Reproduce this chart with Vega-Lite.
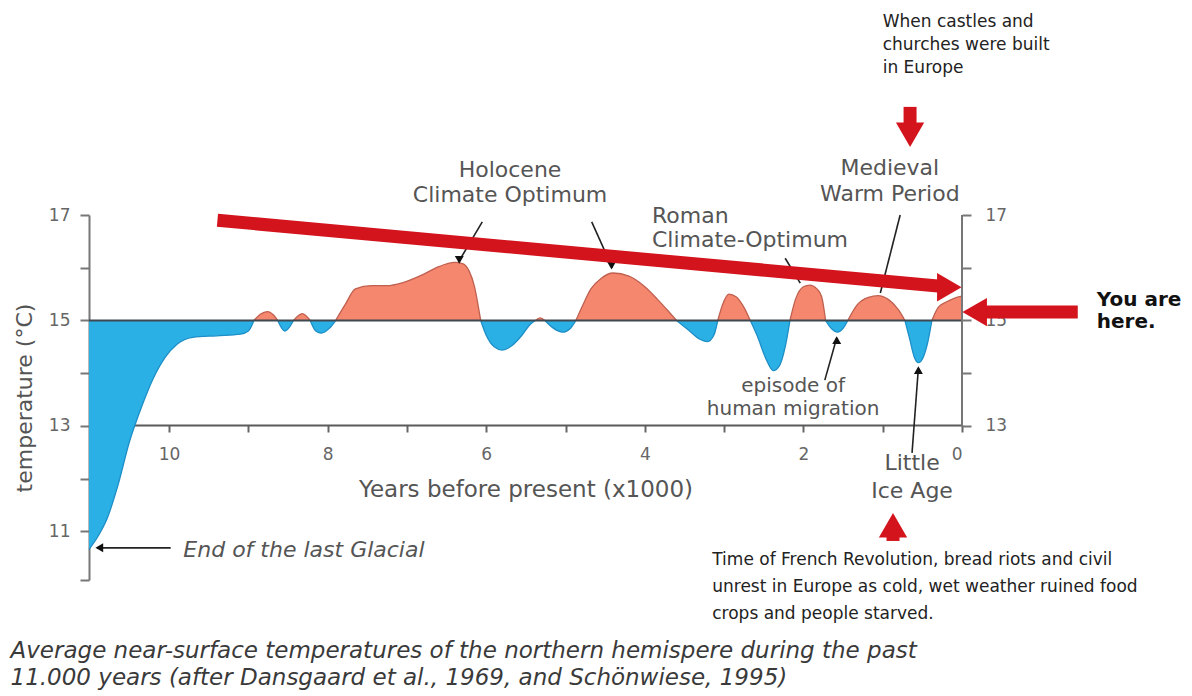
{
  "$schema": "https://vega.github.io/schema/vega-lite/v6.json",
  "width": 873,
  "height": 365,
  "autosize": {"type": "none"},
  "padding": {"left": 89, "top": 215, "right": 230, "bottom": 116},
  "background": "white",
  "config": {"view": {"stroke": null}},
  "datasets": {
    "curve": [
      {"yrs": 11.01, "temp": 10.66, "seg": "c1", "phase": "cold"},
      {"yrs": 10.9, "temp": 10.9, "seg": "c1", "phase": "cold"},
      {"yrs": 10.78, "temp": 11.25, "seg": "c1", "phase": "cold"},
      {"yrs": 10.65, "temp": 11.85, "seg": "c1", "phase": "cold"},
      {"yrs": 10.5, "temp": 12.7, "seg": "c1", "phase": "cold"},
      {"yrs": 10.35, "temp": 13.35, "seg": "c1", "phase": "cold"},
      {"yrs": 10.2, "temp": 13.9, "seg": "c1", "phase": "cold"},
      {"yrs": 10.05, "temp": 14.3, "seg": "c1", "phase": "cold"},
      {"yrs": 9.9, "temp": 14.55, "seg": "c1", "phase": "cold"},
      {"yrs": 9.7, "temp": 14.68, "seg": "c1", "phase": "cold"},
      {"yrs": 9.4, "temp": 14.71, "seg": "c1", "phase": "cold"},
      {"yrs": 9.1, "temp": 14.74, "seg": "c1", "phase": "cold"},
      {"yrs": 9.0, "temp": 14.8, "seg": "c1", "phase": "cold"},
      {"yrs": 8.93, "temp": 15.0, "seg": "c1", "phase": "cold"},
      {"yrs": 8.93, "temp": 15.0, "seg": "w1", "phase": "warm"},
      {"yrs": 8.85, "temp": 15.12, "seg": "w1", "phase": "warm"},
      {"yrs": 8.76, "temp": 15.17, "seg": "w1", "phase": "warm"},
      {"yrs": 8.68, "temp": 15.1, "seg": "w1", "phase": "warm"},
      {"yrs": 8.63, "temp": 15.0, "seg": "w1", "phase": "warm"},
      {"yrs": 8.63, "temp": 15.0, "seg": "c2", "phase": "cold"},
      {"yrs": 8.54, "temp": 14.8, "seg": "c2", "phase": "cold"},
      {"yrs": 8.43, "temp": 15.0, "seg": "c2", "phase": "cold"},
      {"yrs": 8.43, "temp": 15.0, "seg": "w2", "phase": "warm"},
      {"yrs": 8.32, "temp": 15.13, "seg": "w2", "phase": "warm"},
      {"yrs": 8.22, "temp": 15.0, "seg": "w2", "phase": "warm"},
      {"yrs": 8.22, "temp": 15.0, "seg": "c3", "phase": "cold"},
      {"yrs": 8.15, "temp": 14.8, "seg": "c3", "phase": "cold"},
      {"yrs": 8.08, "temp": 14.76, "seg": "c3", "phase": "cold"},
      {"yrs": 7.98, "temp": 14.85, "seg": "c3", "phase": "cold"},
      {"yrs": 7.9, "temp": 15.0, "seg": "c3", "phase": "cold"},
      {"yrs": 7.9, "temp": 15.0, "seg": "w3", "phase": "warm"},
      {"yrs": 7.78, "temp": 15.3, "seg": "w3", "phase": "warm"},
      {"yrs": 7.65, "temp": 15.6, "seg": "w3", "phase": "warm"},
      {"yrs": 7.45, "temp": 15.66, "seg": "w3", "phase": "warm"},
      {"yrs": 7.25, "temp": 15.66, "seg": "w3", "phase": "warm"},
      {"yrs": 7.05, "temp": 15.72, "seg": "w3", "phase": "warm"},
      {"yrs": 6.8, "temp": 15.87, "seg": "w3", "phase": "warm"},
      {"yrs": 6.6, "temp": 16.02, "seg": "w3", "phase": "warm"},
      {"yrs": 6.4, "temp": 16.1, "seg": "w3", "phase": "warm"},
      {"yrs": 6.3, "temp": 16.08, "seg": "w3", "phase": "warm"},
      {"yrs": 6.22, "temp": 15.95, "seg": "w3", "phase": "warm"},
      {"yrs": 6.15, "temp": 15.65, "seg": "w3", "phase": "warm"},
      {"yrs": 6.11, "temp": 15.35, "seg": "w3", "phase": "warm"},
      {"yrs": 6.07, "temp": 15.0, "seg": "w3", "phase": "warm"},
      {"yrs": 6.07, "temp": 15.0, "seg": "c4", "phase": "cold"},
      {"yrs": 6.0, "temp": 14.72, "seg": "c4", "phase": "cold"},
      {"yrs": 5.9, "temp": 14.5, "seg": "c4", "phase": "cold"},
      {"yrs": 5.8, "temp": 14.44, "seg": "c4", "phase": "cold"},
      {"yrs": 5.68, "temp": 14.52, "seg": "c4", "phase": "cold"},
      {"yrs": 5.55, "temp": 14.72, "seg": "c4", "phase": "cold"},
      {"yrs": 5.45, "temp": 14.92, "seg": "c4", "phase": "cold"},
      {"yrs": 5.38, "temp": 15.0, "seg": "c4", "phase": "cold"},
      {"yrs": 5.38, "temp": 15.0, "seg": "w4", "phase": "warm"},
      {"yrs": 5.32, "temp": 15.05, "seg": "w4", "phase": "warm"},
      {"yrs": 5.26, "temp": 15.0, "seg": "w4", "phase": "warm"},
      {"yrs": 5.26, "temp": 15.0, "seg": "c5", "phase": "cold"},
      {"yrs": 5.15, "temp": 14.85, "seg": "c5", "phase": "cold"},
      {"yrs": 5.04, "temp": 14.78, "seg": "c5", "phase": "cold"},
      {"yrs": 4.94, "temp": 14.85, "seg": "c5", "phase": "cold"},
      {"yrs": 4.87, "temp": 15.0, "seg": "c5", "phase": "cold"},
      {"yrs": 4.87, "temp": 15.0, "seg": "w5", "phase": "warm"},
      {"yrs": 4.78, "temp": 15.3, "seg": "w5", "phase": "warm"},
      {"yrs": 4.68, "temp": 15.6, "seg": "w5", "phase": "warm"},
      {"yrs": 4.55, "temp": 15.8, "seg": "w5", "phase": "warm"},
      {"yrs": 4.4, "temp": 15.9, "seg": "w5", "phase": "warm"},
      {"yrs": 4.2, "temp": 15.84, "seg": "w5", "phase": "warm"},
      {"yrs": 4.0, "temp": 15.64, "seg": "w5", "phase": "warm"},
      {"yrs": 3.84, "temp": 15.4, "seg": "w5", "phase": "warm"},
      {"yrs": 3.7, "temp": 15.17, "seg": "w5", "phase": "warm"},
      {"yrs": 3.6, "temp": 15.0, "seg": "w5", "phase": "warm"},
      {"yrs": 3.6, "temp": 15.0, "seg": "c6", "phase": "cold"},
      {"yrs": 3.45, "temp": 14.82, "seg": "c6", "phase": "cold"},
      {"yrs": 3.3, "temp": 14.64, "seg": "c6", "phase": "cold"},
      {"yrs": 3.21, "temp": 14.6, "seg": "c6", "phase": "cold"},
      {"yrs": 3.13, "temp": 14.72, "seg": "c6", "phase": "cold"},
      {"yrs": 3.08, "temp": 15.0, "seg": "c6", "phase": "cold"},
      {"yrs": 3.08, "temp": 15.0, "seg": "w6", "phase": "warm"},
      {"yrs": 3.02, "temp": 15.3, "seg": "w6", "phase": "warm"},
      {"yrs": 2.94, "temp": 15.5, "seg": "w6", "phase": "warm"},
      {"yrs": 2.85, "temp": 15.45, "seg": "w6", "phase": "warm"},
      {"yrs": 2.75, "temp": 15.25, "seg": "w6", "phase": "warm"},
      {"yrs": 2.67, "temp": 15.0, "seg": "w6", "phase": "warm"},
      {"yrs": 2.67, "temp": 15.0, "seg": "c7", "phase": "cold"},
      {"yrs": 2.58, "temp": 14.7, "seg": "c7", "phase": "cold"},
      {"yrs": 2.48, "temp": 14.3, "seg": "c7", "phase": "cold"},
      {"yrs": 2.38, "temp": 14.05, "seg": "c7", "phase": "cold"},
      {"yrs": 2.3, "temp": 14.15, "seg": "c7", "phase": "cold"},
      {"yrs": 2.23, "temp": 14.5, "seg": "c7", "phase": "cold"},
      {"yrs": 2.17, "temp": 15.0, "seg": "c7", "phase": "cold"},
      {"yrs": 2.17, "temp": 15.0, "seg": "w7", "phase": "warm"},
      {"yrs": 2.1, "temp": 15.4, "seg": "w7", "phase": "warm"},
      {"yrs": 2.0, "temp": 15.64, "seg": "w7", "phase": "warm"},
      {"yrs": 1.92, "temp": 15.67, "seg": "w7", "phase": "warm"},
      {"yrs": 1.83, "temp": 15.6, "seg": "w7", "phase": "warm"},
      {"yrs": 1.77, "temp": 15.45, "seg": "w7", "phase": "warm"},
      {"yrs": 1.72, "temp": 15.0, "seg": "w7", "phase": "warm"},
      {"yrs": 1.72, "temp": 15.0, "seg": "c8", "phase": "cold"},
      {"yrs": 1.65, "temp": 14.85, "seg": "c8", "phase": "cold"},
      {"yrs": 1.57, "temp": 14.78, "seg": "c8", "phase": "cold"},
      {"yrs": 1.5, "temp": 14.85, "seg": "c8", "phase": "cold"},
      {"yrs": 1.44, "temp": 15.0, "seg": "c8", "phase": "cold"},
      {"yrs": 1.44, "temp": 15.0, "seg": "w8", "phase": "warm"},
      {"yrs": 1.32, "temp": 15.3, "seg": "w8", "phase": "warm"},
      {"yrs": 1.18, "temp": 15.44, "seg": "w8", "phase": "warm"},
      {"yrs": 1.06, "temp": 15.47, "seg": "w8", "phase": "warm"},
      {"yrs": 0.93, "temp": 15.4, "seg": "w8", "phase": "warm"},
      {"yrs": 0.8, "temp": 15.2, "seg": "w8", "phase": "warm"},
      {"yrs": 0.72, "temp": 15.0, "seg": "w8", "phase": "warm"},
      {"yrs": 0.72, "temp": 15.0, "seg": "c9", "phase": "cold"},
      {"yrs": 0.66, "temp": 14.65, "seg": "c9", "phase": "cold"},
      {"yrs": 0.6, "temp": 14.3, "seg": "c9", "phase": "cold"},
      {"yrs": 0.55, "temp": 14.2, "seg": "c9", "phase": "cold"},
      {"yrs": 0.49, "temp": 14.3, "seg": "c9", "phase": "cold"},
      {"yrs": 0.43, "temp": 14.6, "seg": "c9", "phase": "cold"},
      {"yrs": 0.38, "temp": 15.0, "seg": "c9", "phase": "cold"},
      {"yrs": 0.38, "temp": 15.0, "seg": "w9", "phase": "warm"},
      {"yrs": 0.3, "temp": 15.25, "seg": "w9", "phase": "warm"},
      {"yrs": 0.2, "temp": 15.35, "seg": "w9", "phase": "warm"},
      {"yrs": 0.1, "temp": 15.42, "seg": "w9", "phase": "warm"},
      {"yrs": 0.0, "temp": 15.46, "seg": "w9", "phase": "warm"}
    ],
    "baseline": [{"yrs": 11.01, "yrs2": 0, "temp": 15}],
    "rightAxis": [{"yrs": 0, "temp": 13, "temp2": 17}],
    "pointers": [
      {"yrs": 6.05, "temp": 16.87, "yrs2": 6.35, "temp2": 16.11},
      {"yrs": 4.67, "temp": 16.87, "yrs2": 4.41, "temp2": 16.0},
      {"yrs": 2.23, "temp": 16.18, "yrs2": 2.04, "temp2": 15.71},
      {"yrs": 0.78, "temp": 17.0, "yrs2": 1.03, "temp2": 15.52},
      {"yrs": 1.73, "temp": 13.87, "yrs2": 1.58, "temp2": 14.67},
      {"yrs": 0.63, "temp": 12.49, "yrs2": 0.55, "temp2": 14.1},
      {"yrs": 9.98, "temp": 10.69, "yrs2": 10.91, "temp2": 10.69}
    ],
    "pointerHeads": [
      {"yrs": 6.34, "temp": 16.15, "dir": "down"},
      {"yrs": 4.42, "temp": 16.04, "dir": "down"},
      {"yrs": 1.58, "temp": 14.63, "dir": "up"},
      {"yrs": 0.55, "temp": 14.06, "dir": "up"},
      {"yrs": 10.88, "temp": 10.69, "dir": "left"}
    ],
    "redShafts": [
      {"yrs": 9.39, "temp": 16.9, "yrs2": 0.2, "temp2": 15.64},
      {"yrs": -1.46, "temp": 15.16, "yrs2": -0.16, "temp2": 15.16},
      {"yrs": 0.655, "temp": 19.05, "yrs2": 0.655, "temp2": 18.52},
      {"yrs": 0.87, "temp": 10.82, "yrs2": 0.87, "temp2": 11.12}
    ],
    "redHeads": [
      {"yrs": 0.16, "temp": 15.63, "dir": "right"},
      {"yrs": -0.16, "temp": 15.16, "dir": "left"},
      {"yrs": 0.655, "temp": 18.52, "dir": "down"},
      {"yrs": 0.87, "temp": 11.12, "dir": "up"}
    ],
    "centerLabels": [
      {"yrs": 5.7, "temp": 17.85, "label": "Holocene"},
      {"yrs": 5.7, "temp": 17.38, "label": "Climate Optimum"},
      {"yrs": 0.91, "temp": 17.89, "label": "Medieval"},
      {"yrs": 0.91, "temp": 17.4, "label": "Warm Period"},
      {"yrs": 0.63, "temp": 12.3, "label": "Little"},
      {"yrs": 0.63, "temp": 11.77, "label": "Ice Age"}
    ],
    "episodeLabels": [
      {"yrs": 2.13, "temp": 13.76, "label": "episode of"},
      {"yrs": 2.13, "temp": 13.32, "label": "human migration"}
    ],
    "leftLabels": [
      {"yrs": 3.91, "temp": 16.98, "label": "Roman"},
      {"yrs": 3.91, "temp": 16.53, "label": "Climate-Optimum"}
    ],
    "glacial": [{"yrs": 9.82, "temp": 10.65, "label": "End of the last Glacial"}],
    "caption": [
      {"yrs": 12.0, "temp": 8.74, "label": "Average near-surface temperatures of the northern hemispere during the past"},
      {"yrs": 12.0, "temp": 8.22, "label": "11.000 years (after Dansgaard et al., 1969, and Schönwiese, 1995)"}
    ],
    "here": [
      {"yrs": -1.7, "temp": 15.39, "label": "You are"},
      {"yrs": -1.7, "temp": 14.97, "label": "here."}
    ],
    "notes": [
      {"yrs": 1.0, "temp": 20.66, "label": "When castles and"},
      {"yrs": 1.0, "temp": 20.22, "label": "churches were built"},
      {"yrs": 1.0, "temp": 19.79, "label": "in Europe"},
      {"yrs": 3.15, "temp": 10.46, "label": "Time of  French Revolution, bread riots and civil"},
      {"yrs": 3.15, "temp": 9.95, "label": "unrest in Europe as cold, wet weather  ruined food"},
      {"yrs": 3.15, "temp": 9.44, "label": "crops and people starved."}
    ]
  },
  "encoding": {
    "x": {"field": "yrs", "type": "quantitative", "scale": {"domain": [0, 11.01], "reverse": true, "nice": false, "zero": false}, "axis": null},
    "y": {"field": "temp", "type": "quantitative", "scale": {"domain": [10.08, 17], "nice": false, "zero": false}, "axis": null}
  },
  "layer": [
    {
      "data": {"name": "curve"},
      "mark": {"type": "area", "interpolate": "monotone"},
      "encoding": {
        "x": {"field": "yrs", "type": "quantitative", "scale": {"domain": [0, 11.01], "reverse": true, "nice": false, "zero": false},
          "axis": {"orient": "bottom", "offset": -155, "values": [0, 1, 2, 3, 4, 5, 6, 7, 8, 9, 10], "labelExpr": "datum.value % 2 == 0 ? datum.label : ''", "grid": false,
            "domainColor": "#5a5a5a", "domainWidth": 2, "tickColor": "#666", "tickWidth": 2, "tickSize": 7,
            "labelColor": "#666", "labelFont": "DejaVu Sans", "labelFontSize": 17, "labelPadding": 14,
            "title": "Years before present (x1000)", "titleFont": "DejaVu Sans", "titleFontSize": 23, "titleFontWeight": "normal", "titleColor": "#555", "titlePadding": 16}},
        "y": {"field": "temp", "type": "quantitative", "scale": {"domain": [10.08, 17], "nice": false, "zero": false},
          "axis": {"orient": "left", "values": [10.08, 11, 12, 13, 14, 15, 16, 17], "labelExpr": "datum.value % 2 == 1 ? datum.label : ''", "grid": false,
            "domainColor": "#777", "domainWidth": 2, "tickColor": "#777", "tickWidth": 2, "tickSize": 9,
            "labelColor": "#666", "labelFont": "DejaVu Sans", "labelFontSize": 17, "labelPadding": 10,
            "title": "temperature (°C)", "titleFont": "DejaVu Sans", "titleFontSize": 22, "titleFontWeight": "normal", "titleColor": "#555", "titlePadding": 12}},
        "y2": {"datum": 15},
        "fill": {"field": "phase", "type": "nominal", "scale": {"domain": ["cold", "warm"], "range": ["#2bb0e6", "#f5876f"]}, "legend": null},
        "detail": {"field": "seg"}
      }
    },
    {
      "data": {"name": "curve"},
      "mark": {"type": "line", "interpolate": "monotone", "strokeWidth": 1.3},
      "encoding": {
        "stroke": {"field": "phase", "type": "nominal", "scale": {"domain": ["cold", "warm"], "range": ["#1d8ec6", "#c0604f"]}, "legend": null},
        "detail": {"field": "seg"}
      }
    },
    {
      "data": {"name": "baseline"},
      "mark": {"type": "rule", "color": "#3d4850", "strokeWidth": 2},
      "encoding": {"x2": {"field": "yrs2"}}
    },
    {
      "data": {"name": "rightAxis"},
      "mark": {"type": "rule", "color": "#777", "strokeWidth": 2},
      "encoding": {
        "y": {"field": "temp", "type": "quantitative", "scale": {"domain": [10.08, 17], "nice": false, "zero": false},
          "axis": {"orient": "right", "values": [13, 14, 15, 16, 17], "labelExpr": "datum.value % 2 == 1 ? datum.label : ''", "grid": false, "domain": false,
            "tickColor": "#777", "tickWidth": 2, "tickSize": 9, "labelColor": "#666", "labelFont": "DejaVu Sans", "labelFontSize": 17, "labelPadding": 14, "title": null}},
        "y2": {"field": "temp2"}
      }
    },
    {
      "data": {"name": "pointers"},
      "mark": {"type": "rule", "color": "#222", "strokeWidth": 1.6},
      "encoding": {"x2": {"field": "yrs2"}, "y2": {"field": "temp2"}}
    },
    {
      "data": {"name": "pointerHeads"},
      "mark": {"type": "point", "filled": true, "color": "#111", "size": 80, "opacity": 1},
      "encoding": {"shape": {"field": "dir", "type": "nominal", "scale": {"domain": ["up", "down", "left", "right"], "range": ["triangle-up", "triangle-down", "triangle-left", "triangle-right"]}, "legend": null}}
    },
    {
      "data": {"name": "redShafts"},
      "mark": {"type": "rule", "color": "#d3141d", "strokeWidth": 13},
      "encoding": {"x2": {"field": "yrs2"}, "y2": {"field": "temp2"}}
    },
    {
      "data": {"name": "redHeads"},
      "mark": {"type": "point", "filled": true, "color": "#d3141d", "size": 800, "opacity": 1},
      "encoding": {"shape": {"field": "dir", "type": "nominal", "scale": {"domain": ["up", "down", "left", "right"], "range": ["triangle-up", "triangle-down", "triangle-left", "triangle-right"]}, "legend": null}}
    },
    {
      "data": {"name": "centerLabels"},
      "mark": {"type": "text", "align": "center", "baseline": "middle", "font": "DejaVu Sans", "fontSize": 22, "color": "#555"},
      "encoding": {"text": {"field": "label"}}
    },
    {
      "data": {"name": "episodeLabels"},
      "mark": {"type": "text", "align": "center", "baseline": "middle", "font": "DejaVu Sans", "fontSize": 20, "color": "#555"},
      "encoding": {"text": {"field": "label"}}
    },
    {
      "data": {"name": "leftLabels"},
      "mark": {"type": "text", "align": "left", "baseline": "middle", "font": "DejaVu Sans", "fontSize": 22, "color": "#555"},
      "encoding": {"text": {"field": "label"}}
    },
    {
      "data": {"name": "glacial"},
      "mark": {"type": "text", "align": "left", "baseline": "middle", "font": "DejaVu Sans", "fontSize": 22, "fontStyle": "italic", "color": "#555"},
      "encoding": {"text": {"field": "label"}}
    },
    {
      "data": {"name": "caption"},
      "mark": {"type": "text", "align": "left", "baseline": "middle", "font": "DejaVu Sans", "fontSize": 23, "fontStyle": "italic", "color": "#3a3a3a"},
      "encoding": {"text": {"field": "label"}}
    },
    {
      "data": {"name": "here"},
      "mark": {"type": "text", "align": "left", "baseline": "middle", "font": "DejaVu Sans", "fontSize": 20, "fontWeight": "bold", "color": "#111"},
      "encoding": {"text": {"field": "label"}}
    },
    {
      "data": {"name": "notes"},
      "mark": {"type": "text", "align": "left", "baseline": "middle", "font": "DejaVu Sans", "fontSize": 17, "color": "#222"},
      "encoding": {"text": {"field": "label"}}
    }
  ],
  "resolve": {"axis": {"x": "independent", "y": "independent"}}
}
